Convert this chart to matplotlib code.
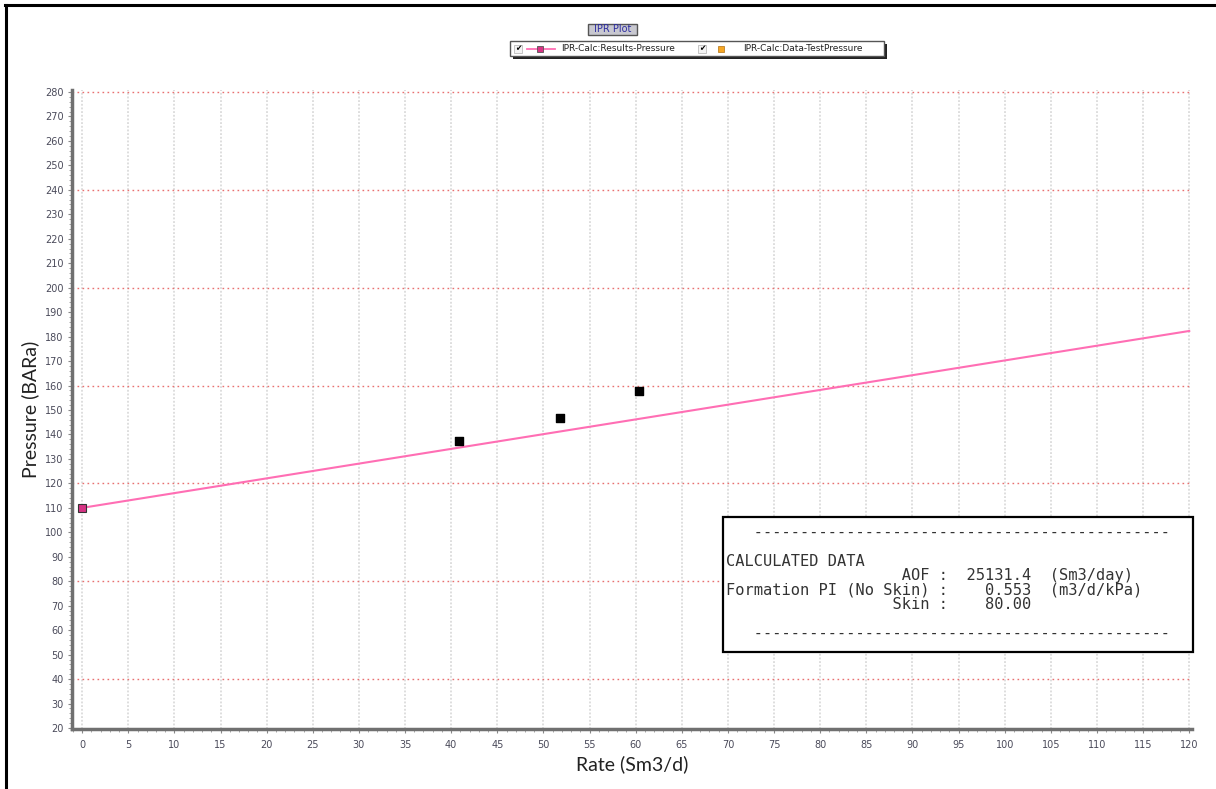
import matplotlib
matplotlib.use("Agg")
import matplotlib.pyplot as plt
from matplotlib.patches import Rectangle
from matplotlib.lines import Line2D
from matplotlib.ticker import MultipleLocator

# ---- data ----
rate_results = [0, 120]
pressure_results = [110, 182.3]
rate_test = [40.8, 51.8, 60.4]
pressure_test = [137.3, 146.7, 157.8]
x_ticks = list(range(0, 121, 5))
y_ticks = list(range(20, 281, 10))
red_grid_levels = [40, 80, 120, 160, 200, 240, 280]
title_text = "IPR Plot"
legend_labels = ["IPR-Calc:Results-Pressure", "IPR-Calc:Data-TestPressure"]
x_label = "Rate (Sm3/d)"
y_label = "Pressure (BARa)"
info_lines = [
    "   ---------------------------------------------",
    "",
    "CALCULATED DATA",
    "                   AOF :  25131.4  (Sm3/day)",
    "Formation PI (No Skin) :    0.553  (m3/d/kPa)",
    "                  Skin :    80.00",
    "",
    "   ---------------------------------------------",
]

W, H = 1216, 789
fig = plt.figure(figsize=(W / 100, H / 100), dpi=100)
fig.patch.set_facecolor("white")

def fx(px):
    return px / W

def fy(py):
    return 1 - py / H

# outer frame (left and top)
fig.add_artist(Line2D([fx(6), fx(6)], [fy(5), fy(789)], color="black", lw=2.2,
                      transform=fig.transFigure))
fig.add_artist(Line2D([fx(5), fx(1216)], [fy(5), fy(5)], color="black", lw=2.2,
                      transform=fig.transFigure))

ax_left, ax_right, ax_top, ax_bottom = 72, 1192, 90, 729
ax = fig.add_axes([fx(ax_left), fy(ax_bottom), fx(ax_right - ax_left), fy(ax_top) - fy(ax_bottom)])

ax.set_xlim(-1.1, 120.3)
ax.set_ylim(19.6, 280.8)

tick_color = "#4a4a5a"
ax.set_xticks(x_ticks)
ax.set_yticks(y_ticks)
ax.xaxis.set_minor_locator(MultipleLocator(1))
ax.yaxis.set_minor_locator(MultipleLocator(2))
ax.tick_params(axis="both", which="major", labelsize=7, colors="#888888",
               labelcolor=tick_color, length=3, width=0.8, direction="out")
ax.tick_params(axis="both", which="minor", colors="#999999", length=2, width=0.6, direction="out")
ax.tick_params(axis="x", pad=5)
ax.tick_params(axis="y", pad=3)

for s in ["top", "right"]:
    ax.spines[s].set_visible(False)
for s in ["left", "bottom"]:
    ax.spines[s].set_color("#707070")
    ax.spines[s].set_linewidth(2.5)

# grids
for xv in x_ticks:
    ax.axvline(xv, color="#d4d4d4", lw=1.1, ls=(0, (1.2, 1.2)), zorder=0)
for yv in red_grid_levels:
    ax.axhline(yv, color="#e87070", lw=1.0, ls=(0, (1.2, 2.4)), zorder=1)

# series
ax.plot(rate_results, pressure_results, color="#ff6eb4", lw=1.5, zorder=3,
        marker="s", markevery=[0], markersize=5.5, markerfacecolor="#d63384",
        markeredgecolor="#333333", markeredgewidth=0.8)
ax.scatter(rate_test, pressure_test, marker="s", s=32, color="black", zorder=4)

ax.set_xlabel(x_label, fontsize=14, family="Lato", color="#222222", labelpad=4)
ax.set_ylabel(y_label, fontsize=14, family="Lato", color="#222222", labelpad=4)

# title box
fig.add_artist(Rectangle((fx(588), fy(35)), fx(49), fy(24) - fy(35), transform=fig.transFigure,
                         facecolor="#c8c8d0", edgecolor="#555555", lw=1))
fig.text(fx(612.5), fy(29.5), title_text, ha="center", va="center", fontsize=7,
         color="#2e2ea0", family="DejaVu Sans")

# legend box with shadow
lx0, lx1, ly0, ly1 = 510, 884, 41, 56
fig.add_artist(Rectangle((fx(lx0 + 3), fy(ly1 + 3)), fx(lx1 - lx0), fy(ly0) - fy(ly1),
                         transform=fig.transFigure, facecolor="#222222", edgecolor="none"))
fig.add_artist(Rectangle((fx(lx0), fy(ly1)), fx(lx1 - lx0), fy(ly0) - fy(ly1),
                         transform=fig.transFigure, facecolor="white", edgecolor="#555555", lw=1))
ymid = fy(48.5)
for cx in [518, 702]:
    fig.add_artist(Rectangle((fx(cx - 4), fy(52.5)), fx(8), fy(44.5) - fy(52.5),
                             transform=fig.transFigure, facecolor="#f4f4f4", edgecolor="#bbbbbb", lw=0.6))
    fig.text(fx(cx), ymid, "\u2714", ha="center", va="center", fontsize=5.5, color="black",
             family="DejaVu Sans")
fig.add_artist(Line2D([fx(527), fx(555)], [ymid, ymid], color="#ff6eb4", lw=1.3,
                      transform=fig.transFigure))
fig.add_artist(Line2D([fx(540)], [ymid], marker="s", markersize=4, markerfacecolor="#d63384",
                      markeredgecolor="#555555", markeredgewidth=0.6, transform=fig.transFigure))
fig.add_artist(Line2D([fx(721)], [ymid], marker="s", markersize=5, markerfacecolor="#f5a623",
                      markeredgecolor="#b07010", markeredgewidth=0.5, transform=fig.transFigure))
fig.text(fx(561), ymid, legend_labels[0], ha="left", va="center", fontsize=6.5, color="#222222")
fig.text(fx(743), ymid, legend_labels[1], ha="left", va="center", fontsize=6.5, color="#222222")

# info box
fig.add_artist(Rectangle((fx(723), fy(652)), fx(1193 - 723), fy(517) - fy(652),
                         transform=fig.transFigure, facecolor="white", edgecolor="black", lw=1.6,
                         zorder=5))
fig.text(fx(726), fy(525), "\n".join(info_lines), ha="left", va="top", fontsize=11.1,
         family="DejaVu Sans Mono", color="#333333", linespacing=0.95, zorder=6)

fig.savefig("out.png", dpi=100)
